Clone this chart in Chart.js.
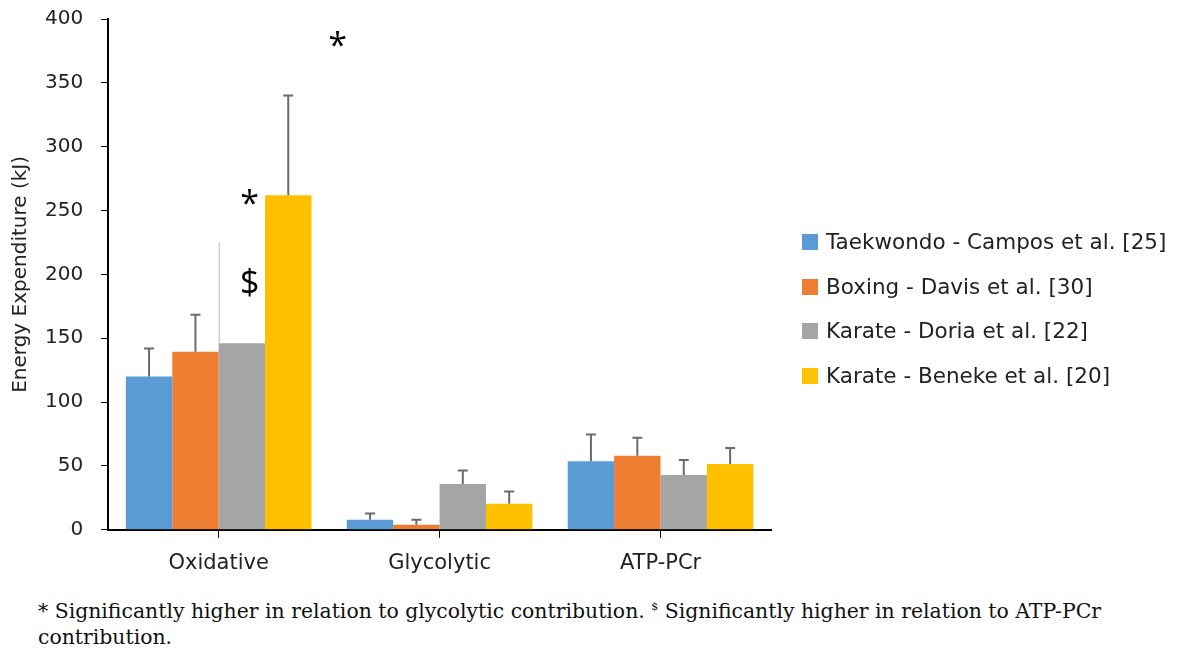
<!DOCTYPE html>
<html>
<head>
<meta charset="utf-8">
<script src="https://cdn.jsdelivr.net/npm/chart.js@4.4.1/dist/chart.umd.min.js"></script>
<style>
  body { margin: 0; background: #fff; }
  #wrap { position: absolute; left: 0; top: -11px; width: 1178px; height: 601px; }
  #legend { position: absolute; left: 802px; top: 239px; font-family: "DejaVu Sans", sans-serif;
            font-size: 21.5px; color: #222; }
  #legend .item { height: 44.5px; display: flex; align-items: flex-start; white-space: nowrap; }
  #legend .sw { width: 16px; height: 16px; margin: 6px 8px 0 0; flex: none; }
  #legend span { line-height: 27px; margin-top: 0px; }
  #note { position: absolute; left: 38px; top: 594px; width: 1115px;
          font-family: "DejaVu Serif", serif; font-size: 20.4px; line-height: 26px; color: #111; }
  #note sup { font-size: 11px; vertical-align: 8px; }
</style>
</head>
<body>
<div id="wrap"><canvas id="bar"></canvas><div id="legend"></div></div>
<div id="note">* Significantly higher in relation to glycolytic contribution. <sup>$</sup> Significantly higher in relation to ATP-PCr contribution.</div>
<script>
// categories / series
const categories = ['Oxidative', 'Glycolytic', 'ATP-PCr'];
const seriesNames = ['Taekwondo - Campos et al. [25]', 'Boxing - Davis et al. [30]', 'Karate - Doria et al. [22]', 'Karate - Beneke et al. [20]'];
const colors = ['#5b9bd5', '#ed7d31', '#a5a5a5', '#ffc000'];

const taekwondo = [120, 7.8, 53.6];
const boxing = [139.5, 3.9, 58];
const karateDoria = [146, 35.8, 42.9];
const karateBeneke = [262, 20.4, 51.5];

// upper error (SD)
const taekwondoErr = [22, 5, 21];
const boxingErr = [29, 4, 14];
const karateDoriaErr = [79, 10.7, 11.8];
const karateBenekeErr = [78, 9.6, 12.5];

const yTicks = [0, 50, 100, 150, 200, 250, 300, 350, 400];

const values = [taekwondo, boxing, karateDoria, karateBeneke];
const errors = [taekwondoErr, boxingErr, karateDoriaErr, karateBenekeErr];

// legend as plain html, built from the same arrays
document.getElementById('legend').innerHTML = seriesNames.map((n, i) =>
  `<div class="item"><div class="sw" style="background:${colors[i]}"></div><span>${n}</span></div>`).join('');

const errorBars = {
  id: 'errorBars',
  afterDatasetsDraw(chart) {
    const ctx = chart.ctx;
    const y = chart.scales.y;
    chart.data.datasets.forEach((ds, i) => {
      const meta = chart.getDatasetMeta(i);
      meta.data.forEach((bar, j) => {
        const top = y.getPixelForValue(ds.data[j] + errors[i][j]);
        ctx.save();
        if (i === 2 && j === 0) {
          // partly hidden in the original: only a faint edge line is left
          const x = bar.x - bar.width / 2 + 0.5;
          ctx.strokeStyle = '#b8b8b8';
          ctx.lineWidth = 1;
          ctx.beginPath(); ctx.moveTo(x, bar.y); ctx.lineTo(x, top); ctx.stroke();
        } else {
          ctx.strokeStyle = '#6b6b6b';
          ctx.lineWidth = 2;
          ctx.beginPath();
          ctx.moveTo(bar.x, bar.y); ctx.lineTo(bar.x, top);
          ctx.moveTo(bar.x - 5, top); ctx.lineTo(bar.x + 5, top);
          ctx.stroke();
        }
        ctx.restore();
      });
    });
  }
};

const marks = {
  id: 'marks',
  afterDraw(chart) {
    const ctx = chart.ctx;
    const x = chart.scales.x, y = chart.scales.y;
    const cx = x.getPixelForValue(0);
    ctx.save();
    ctx.fillStyle = '#000';
    ctx.textAlign = 'center';
    ctx.textBaseline = 'middle';
    ctx.font = '34px "Open Sans"';
    ctx.fillText('*', cx + 119, y.getPixelForValue(378));
    ctx.fillText('*', cx + 31, y.getPixelForValue(254));
    ctx.fillText('$', cx + 31, y.getPixelForValue(192));
    ctx.restore();
  }
};

new Chart(document.getElementById('bar').getContext('2d'), {
  type: 'bar',
  data: {
    labels: categories,
    datasets: seriesNames.map((name, i) => ({
      label: name,
      data: values[i],
      backgroundColor: colors[i],
      borderWidth: 0,
      categoryPercentage: 0.84,
      barPercentage: 1
    }))
  },
  options: {
    responsive: true,
    maintainAspectRatio: false,
    animation: false,
    layout: { padding: { top: 0, right: 407, left: 9, bottom: 1 } },
    plugins: {
      legend: { display: false },
      tooltip: { enabled: false }
    },
    scales: {
      x: {
        grid: { display: true, drawOnChartArea: false, offset: false, color: '#000', tickLength: 8 },
        border: { color: '#000', width: 2 },
        ticks: { color: '#222', font: { family: '"DejaVu Sans"', size: 21 }, padding: 13 }
      },
      y: {
        min: 0, max: 400,
        afterBuildTicks: s => { s.ticks = yTicks.map(v => ({ value: v })); },
        grid: { display: true, drawOnChartArea: false, color: '#000', tickLength: 7 },
        border: { color: '#000', width: 2 },
        ticks: { color: '#222', font: { family: '"DejaVu Sans"', size: 20 }, padding: 18 },
        title: { display: true, text: 'Energy Expenditure (kJ)', color: '#222',
                 font: { family: '"DejaVu Sans"', size: 20 }, padding: { top: 0, bottom: -6 } }
      }
    }
  },
  plugins: [errorBars, marks]
});
</script>
</body>
</html>
